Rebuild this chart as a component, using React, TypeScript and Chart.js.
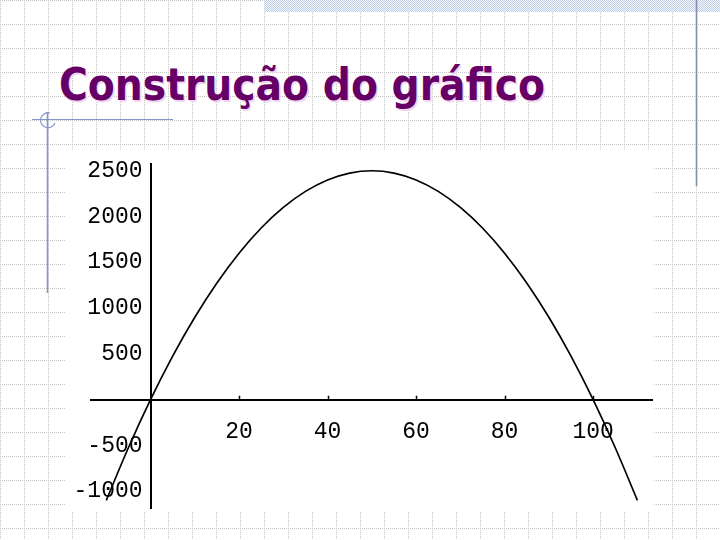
import React, { useEffect, useRef } from "react";
import { Chart, registerables } from "chart.js";

Chart.register(...registerables);

// Curve values
const xValues = [-10, -5, 0, 5, 10, 15, 20, 25, 30, 35, 40, 45, 50, 55, 60, 65, 70, 75, 80, 85, 90, 95, 100, 105, 110];
const yValues = [-1100, -525, 0, 475, 900, 1275, 1600, 1875, 2100, 2275, 2400, 2475, 2500, 2475, 2400, 2275, 2100, 1875, 1600, 1275, 900, 475, 0, -525, -1100];

// Tick labels
const xTicks = [20, 40, 60, 80, 100];
const yTicks = [-1000, -500, 500, 1000, 1500, 2000, 2500];

const title = "Construção do gráfico";

const tickFont = { family: "'Liberation Mono', 'DejaVu Sans Mono', monospace", size: 23 };

const tickMarks = {
  id: "tickMarks",
  afterDraw(chart: any) {
    const ctx = chart.ctx;
    const xs = chart.scales.x;
    const y0 = chart.scales.y.getPixelForValue(0);
    ctx.save();
    ctx.strokeStyle = "#000";
    ctx.lineWidth = 1.5;
    ctx.beginPath();
    for (const v of xTicks) {
      const px = Math.round(xs.getPixelForValue(v)) + 0.5;
      ctx.moveTo(px, y0 - 4);
      ctx.lineTo(px, y0);
    }
    ctx.stroke();
    ctx.restore();
  },
};

function Background() {
  return (
    <svg width={720} height={540} style={{ position: "absolute", left: 0, top: 0 }}>
      <defs>
        <pattern id="grid" width="24" height="24" patternUnits="userSpaceOnUse">
          <line x1="0.5" y1="0" x2="0.5" y2="24" stroke="#c4c4c4" strokeWidth="1" strokeDasharray="1 1" />
          <line x1="0" y1="0.5" x2="24" y2="0.5" stroke="#c4c4c4" strokeWidth="1" strokeDasharray="1 1" />
        </pattern>
        <pattern id="hatch" width="2" height="2" patternUnits="userSpaceOnUse">
          <rect width="2" height="2" fill="#f2f5fb" />
          <rect width="1" height="1" fill="#c2cfe9" />
          <rect x="1" y="1" width="1" height="1" fill="#c2cfe9" />
        </pattern>
      </defs>
      <rect width="720" height="540" fill="#ffffff" />
      <rect width="720" height="540" fill="url(#grid)" />
      <rect x="264" y="0" width="456" height="12" fill="url(#hatch)" />
      <line x1="696.5" y1="0" x2="696.5" y2="186" stroke="#7f8db0" strokeWidth="1.6" />
      <line x1="32" y1="119.5" x2="173" y2="119.5" stroke="#8595c6" strokeWidth="1.2" />
      <line x1="47.5" y1="112" x2="47.5" y2="293" stroke="#8595c6" strokeWidth="1.6" />
      <path d="M 55 123 A 7.5 7.5 0 1 1 50 113" fill="none" stroke="#8595c6" strokeWidth="1.2" />
      <text x="60.5" y="101.5" fontFamily="'DejaVu Sans', Verdana, sans-serif" fontWeight="bold" fontSize="44"
        textLength="486" lengthAdjust="spacingAndGlyphs" fill="#f0d6f0">{title}</text>
      <text x="59" y="100" fontFamily="'DejaVu Sans', Verdana, sans-serif" fontWeight="bold" fontSize="44"
        textLength="486" lengthAdjust="spacingAndGlyphs" fill="#660066">{title}</text>
      <rect x="66" y="150" width="587" height="362" fill="#ffffff" />
    </svg>
  );
}

export default function App() {
  const ref = useRef<HTMLCanvasElement>(null);

  useEffect(() => {
    if (!ref.current) return;
    const points = xValues.map((x, i) => ({ x, y: yValues[i] }));
    const chart = new Chart(ref.current, {
      type: "line",
      data: {
        datasets: [
          {
            data: points,
            borderColor: "#000",
            borderWidth: 1.7,
            pointRadius: 0,
            tension: 0.4,
            fill: false,
            xAxisID: "x",
            yAxisID: "y",
          },
        ],
      },
      options: {
        animation: false,
        responsive: false,
        maintainAspectRatio: false,
        devicePixelRatio: 1,
        layout: { padding: { left: 25, right: 1, top: 12, bottom: 4 } },
        plugins: { legend: { display: false }, tooltip: { enabled: false } },
        scales: {
          x: {
            type: "linear",
            min: -13.45,
            max: 113.3,
            position: { y: 0 } as any,
            grid: { display: false, drawTicks: false },
            border: { display: true, color: "#000", width: 2 },
            afterBuildTicks: (s: any) => {
              s.ticks = xTicks.map((v) => ({ value: v }));
            },
            ticks: {
              color: "#000",
              font: tickFont,
              padding: 18.5,
              maxRotation: 0,
              autoSkip: false,
              callback: (v: any) => String(v),
            },
          },
          y: {
            type: "linear",
            min: -1185,
            max: 2576,
            position: { x: 0 } as any,
            grid: { display: false, drawTicks: false },
            border: { display: true, color: "#000", width: 2 },
            afterBuildTicks: (s: any) => {
              s.ticks = yTicks.map((v) => ({ value: v }));
            },
            ticks: { display: false },
          },
          yl: {
            type: "linear",
            min: -1185,
            max: 2576,
            position: { x: -1.8 } as any,
            grid: { display: false, drawTicks: false },
            border: { display: false },
            afterBuildTicks: (s: any) => {
              s.ticks = yTicks.map((v) => ({ value: v }));
            },
            ticks: {
              color: "#000",
              font: tickFont,
              padding: 0,
              autoSkip: false,
              callback: (v: any) => String(v),
            },
          },
        },
      },
      plugins: [tickMarks],
    });
    return () => chart.destroy();
  }, []);

  return (
    <div style={{ position: "absolute", left: 0, top: 0, width: 720, height: 540, overflow: "hidden" }}>
      <Background />
      <canvas
        ref={ref}
        width={587}
        height={372}
        style={{ position: "absolute", left: 66, top: 150, width: 587, height: 372 }}
      />
    </div>
  );
}
